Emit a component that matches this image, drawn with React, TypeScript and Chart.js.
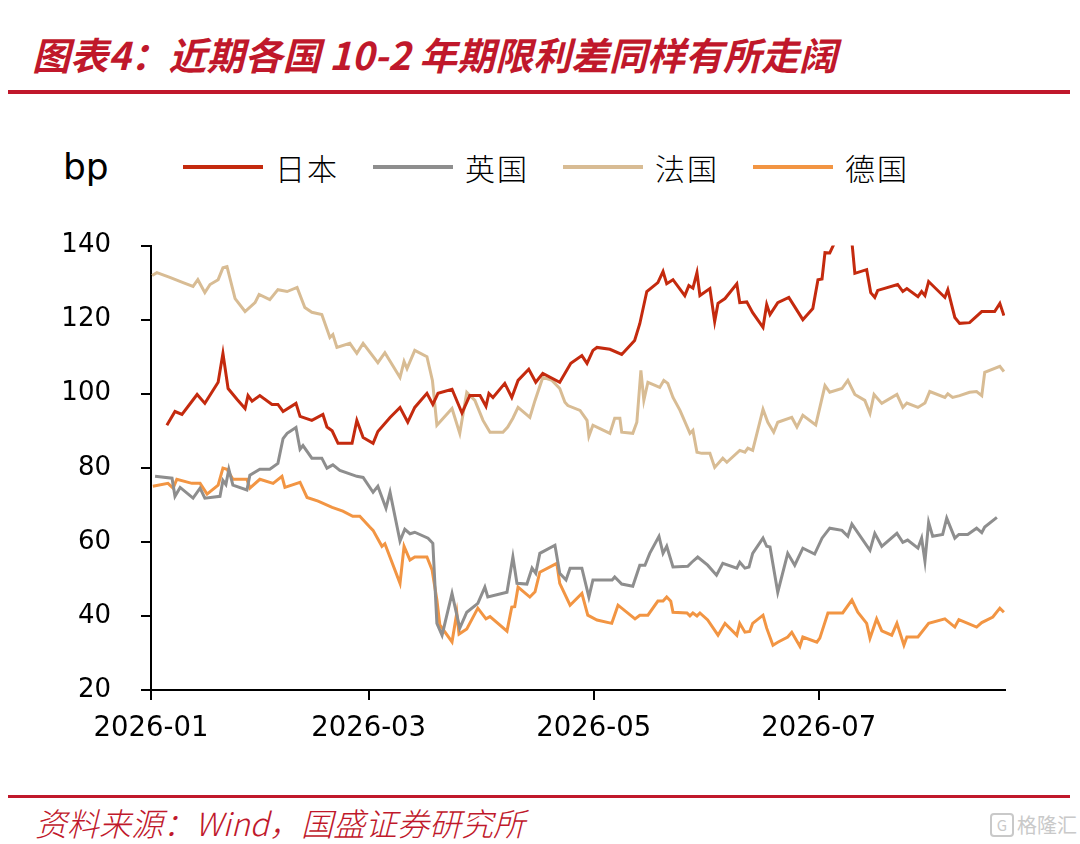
import { useEffect, useRef } from 'react';
import Chart from 'chart.js/auto';

// day offset from 2026-01-01, spread in bp
const japan: [number, number][] = [
  [4.3, 91.5], [6.5, 95.2], [8.4, 94.4], [12.5, 99.8], [14.6, 97.4], [18.2, 103.1], [19.5, 110.9],
  [20.9, 101.4], [23.3, 98.5], [25.5, 96], [26.3, 99.5], [27.4, 98], [29.5, 99.5], [32.8, 97.1],
  [34.4, 97.1], [35.8, 95.2], [39.3, 97.4], [40.4, 93.9], [43.6, 92.8], [46.6, 94.4], [47.7, 91],
  [49.1, 90], [50.7, 86.6], [54.5, 86.6], [55.8, 92.8], [57.5, 88.2], [60.2, 86.6], [61.5, 89.8],
  [64.8, 93.6], [67.5, 96.3], [69.6, 92.3], [71.5, 96.3], [74.8, 100.1], [76.4, 97.1], [77.8, 100.1],
  [81.6, 101.2], [84.3, 94.8], [86.4, 99.5], [89.2, 99.5], [90.8, 96.6], [91.6, 100.1], [92.7, 99],
  [95.9, 102.8], [97.8, 99], [99.5, 103.6], [102.4, 106.6], [104.3, 103.1], [106.2, 105.5],
  [110.8, 103.1], [113.8, 108.2], [116.8, 110.3], [118.2, 108.2], [119.8, 111.7], [120.9, 112.5],
  [124.4, 112], [127.6, 110.6], [131.1, 114.4], [132.5, 118.9], [134.4, 127.6], [137.4, 130],
  [138.8, 133], [139.8, 129.7], [141.5, 130.8], [144.7, 126.5], [145.8, 129.2], [146.9, 128.5],
  [148.0, 132.7], [148.8, 126.5], [151.5, 128.4], [152.8, 119.5], [153.7, 124.4], [155.6, 125.7],
  [158.8, 129.7], [159.6, 124.6], [161.5, 124.8], [163.1, 121.9], [165.9, 117.9], [166.9, 124.1],
  [167.8, 121.4], [169.9, 124.6], [172.9, 126], [176.7, 120], [179.4, 123], [180.8, 130.8],
  [181.9, 131], [182.7, 138.1], [184.0, 138], [185.4, 141], [186.7, 146], [188.9, 146], [190.0, 141],
  [190.8, 132.5], [194.0, 133.5], [195.1, 127.3], [196.2, 126], [197.0, 127.9], [202.4, 129.5],
  [203.8, 127.6], [204.9, 128.4], [207.9, 126.2], [208.9, 127.6], [209.8, 126.5], [210.8, 130.3],
  [215.2, 126], [216.0, 128.1], [217.9, 120.6], [219.2, 119], [221.9, 119.2], [225.2, 122.2],
  [228.7, 122.2], [230.1, 124.4], [231.2, 121.1],
];

const uk: [number, number][] = [
  [1.1, 77.7], [5.7, 77.2], [6.5, 72.3], [7.9, 74.7], [11.4, 71.8], [13.3, 74.5], [14.6, 71.8],
  [18.7, 72.3], [19.5, 76.6], [20.3, 75.5], [21.1, 79.6], [22.2, 75.3], [26.0, 74], [26.8, 78],
  [29.5, 79.6], [32.2, 79.6], [34.4, 81.2], [35.8, 87.9], [36.9, 89.3], [39.3, 90.9], [40.4, 85],
  [41.2, 86], [43.6, 82.6], [46.3, 82.6], [47.7, 79.9], [49.3, 80.8], [51.2, 79.3], [55.8, 77.7],
  [57.5, 77.4], [60.2, 73.4], [61.5, 75], [63.7, 69.1], [64.8, 73.4], [67.5, 60.2], [68.8, 63.4],
  [70.2, 62.2], [71.5, 62.6], [75.1, 61], [76.4, 59.6], [77.5, 38], [78.9, 34.8], [81.6, 46.1],
  [83.7, 36.7], [85.6, 41], [88.6, 43.4], [90.5, 47.8], [91.3, 45.1], [96.5, 46.4], [98.1, 55.9],
  [99.2, 48.8], [101.9, 48.6], [103.3, 52.9], [104.3, 51.5], [105.4, 56.9], [109.5, 59.1],
  [110.8, 51.5], [112.5, 49.7], [113.6, 52.9], [116.8, 52.9], [118.7, 45.1], [119.8, 49.7],
  [125.0, 49.7], [125.7, 50.5], [127.6, 48.6], [130.6, 48], [132.5, 53.7], [133.9, 53.7],
  [135.2, 56.9], [137.7, 61.5], [138.8, 56.9], [139.8, 58.8], [141.5, 53.2], [145.5, 53.4],
  [146.6, 54.5], [148.2, 55.9], [150.9, 53.7], [153.3, 51], [155.0, 54.2], [158.8, 52.9],
  [159.6, 54.5], [161.0, 52.9], [162.1, 53.2], [163.1, 56.9], [165.9, 61], [166.9, 58.8],
  [167.8, 58.6], [169.9, 46.4], [172.6, 56.9], [174.5, 53.7], [176.7, 58.3], [179.9, 56.7],
  [181.9, 61], [184.0, 63.7], [187.3, 63.1], [188.9, 61.5], [190.0, 64.8], [194.9, 57.7],
  [196.2, 62.3], [198.1, 58.8], [202.2, 62.3], [203.8, 59.9], [205.1, 60.5], [207.9, 58.3],
  [208.9, 61], [209.8, 54.8], [210.8, 65.3], [211.9, 61.5], [214.6, 62], [215.7, 66.4], [217.9, 61],
  [219.0, 62], [221.4, 62], [223.8, 63.7], [225.2, 62.5], [226.0, 64], [229.3, 66.6],
];

const france: [number, number][] = [
  [0.3, 131.9], [1.6, 132.7], [5.1, 131.4], [8.7, 130], [11.4, 129], [12.7, 130.8], [14.6, 127.3],
  [16.0, 129.5], [18.2, 130.8], [19.5, 134], [20.6, 134.3], [22.8, 125.7], [25.5, 122.2],
  [28.2, 124.6], [29.3, 126.8], [32.2, 125.4], [34.4, 128.1], [36.9, 127.6], [39.6, 128.7],
  [41.7, 123.3], [43.6, 122], [46.3, 121.4], [48.5, 115.2], [49.3, 116], [50.4, 112.5],
  [53.9, 113.6], [55.8, 110.9], [57.5, 113.6], [61.5, 108.4], [63.4, 111.1], [67.5, 104.4],
  [68.6, 108.7], [69.4, 106.8], [71.5, 111.7], [74.8, 110], [76.3, 103.5], [77.5, 91.5], [81.6, 96],
  [83.7, 89.3], [85.6, 100.4], [87.8, 98.2], [90.0, 92.8], [91.9, 89.6], [95.4, 89.6], [96.7, 91],
  [98.1, 93.4], [99.5, 96.3], [102.7, 93.6], [104.1, 98.2], [106.2, 104.4], [108.7, 103.6],
  [110.8, 101.4], [112.2, 97.7], [113.0, 96.8], [116.3, 95.5], [118.2, 92.8], [118.7, 88.5],
  [119.8, 91.5], [121.7, 90.6], [124.4, 89.3], [125.7, 93.4], [127.1, 93.4], [127.6, 89.6],
  [130.6, 89.3], [131.7, 92.3], [132.8, 106.3], [133.6, 98.2], [134.7, 103.1], [137.9, 101.7],
  [139.0, 103.6], [140.1, 102.8], [141.5, 99], [143.4, 95.5], [146.1, 89.3], [146.9, 90.1],
  [148.0, 84.2], [149.3, 83.9], [151.5, 83.9], [152.8, 80.1], [155.0, 82.6], [156.1, 81.5],
  [159.6, 84.7], [161.0, 84.2], [161.8, 85.3], [163.1, 84.7], [165.9, 95.8], [167.2, 92.3],
  [168.8, 89.6], [169.9, 92.3], [173.7, 93.6], [175.1, 91], [176.7, 94.2], [180.2, 91.6],
  [182.7, 102.2], [184.0, 100.4], [187.3, 101.4], [188.9, 103.6], [190.8, 99.8], [193.5, 98.2],
  [194.9, 94.7], [196.0, 99.8], [198.1, 97.4], [202.2, 99.8], [203.8, 96.3], [204.9, 97.5],
  [207.9, 96.3], [209.8, 97.5], [211.1, 100.6], [215.2, 99], [216.0, 100], [217.3, 99],
  [219.2, 99.5], [221.9, 100.4], [223.8, 100.6], [225.2, 99.5], [226.0, 105.8], [230.1, 107.4],
  [231.2, 106],
];

const germany: [number, number][] = [
  [0.5, 75], [4.6, 75.8], [6.0, 74.5], [7.0, 76.9], [11.1, 75.8], [13.3, 75.8], [15.2, 72.9],
  [18.2, 75.3], [19.5, 79.9], [20.6, 79.6], [22.2, 76.9], [26.0, 76.9], [26.8, 74.5], [29.5, 76.9],
  [33.1, 75.8], [35.5, 77.7], [36.3, 74.7], [40.4, 76.1], [42.3, 72], [45.3, 71], [49.1, 69.3],
  [52.0, 68.3], [54.7, 66.9], [56.6, 66.9], [59.3, 64], [60.2, 63.1], [62.6, 58.8], [63.4, 59.5],
  [67.5, 48.8], [68.6, 58.8], [70.2, 55.1], [71.5, 55.9], [74.8, 55.9], [76.2, 52.4], [77.5, 44.3],
  [78.3, 37.6], [81.6, 33], [82.9, 40.8], [83.5, 35.1], [85.6, 36.5], [88.6, 42.1], [90.8, 39.2],
  [91.9, 39.8], [96.5, 35.9], [97.8, 42.4], [98.6, 42.5], [99.5, 47.8], [102.7, 45.1], [104.1, 46.5],
  [105.4, 51.8], [110.0, 54.2], [110.8, 48.8], [113.6, 42.9], [116.8, 46.1], [118.4, 40.2],
  [120.9, 38.9], [124.9, 38], [126.6, 42.9], [131.2, 39.2], [132.5, 40.2], [134.7, 40.2],
  [137.4, 44], [138.8, 44], [139.8, 45.1], [140.9, 44], [141.5, 41], [145.3, 40.8], [146.1, 40],
  [146.9, 40.8], [148.0, 40], [148.8, 40.8], [150.9, 38.9], [153.7, 34.8], [155.6, 38], [158.8, 34.8],
  [159.6, 38], [161.0, 35.6], [162.3, 35.8], [163.1, 38], [165.9, 40.2], [166.9, 36.7], [168.6, 32.1],
  [169.9, 32.9], [172.6, 34.3], [173.7, 35.6], [175.9, 31.8], [176.7, 34.3], [180.5, 32.9],
  [181.3, 34], [183.5, 40.8], [187.5, 40.8], [190.0, 44.3], [191.6, 41], [194.0, 38], [194.9, 34],
  [196.7, 39.2], [198.1, 36], [200.8, 34.8], [202.2, 38], [204.1, 32.1], [204.9, 34.3], [207.9, 34.3],
  [210.8, 38], [215.2, 39.2], [217.9, 37], [219.0, 39], [223.8, 37], [225.2, 38.2], [228.2, 39.7],
  [230.1, 42.1], [231.2, 41],
];

const tickDays = [0, 59, 120, 181];
const tickLabels = ['2026-01', '2026-03', '2026-05', '2026-07'];

const series = [
  { label: '日本', data: japan, color: '#C42A0E' },
  { label: '英国', data: uk, color: '#8E8E8E' },
  { label: '法国', data: france, color: '#D8BC94' },
  { label: '德国', data: germany, color: '#F29543' },
];

const RED = '#C0182B';
const FAMILY = '"DejaVu Sans", Verdana, sans-serif';

export default function App() {
  const chartRef = useRef<HTMLCanvasElement>(null);

  useEffect(() => {
    document.body.style.margin = '0';
    if (!chartRef.current) return;
    const chart = new Chart(chartRef.current, {
      type: 'line',
      data: {
        datasets: series.map(s => ({
          label: s.label,
          data: s.data.map(([x, y]) => ({ x, y })),
          borderColor: s.color,
          backgroundColor: s.color,
          borderWidth: 3,
          pointRadius: 0,
          tension: 0,
        })),
      },
      options: {
        animation: false,
        responsive: true,
        maintainAspectRatio: false,
        layout: { padding: { top: 0, right: 75, left: 0, bottom: 0 } },
        plugins: { legend: { display: false }, tooltip: { enabled: false } },
        scales: {
          x: {
            type: 'linear',
            min: 0,
            max: 231.5,
            afterBuildTicks: scale => {
              scale.ticks = tickDays.map(value => ({ value }));
            },
            afterFit: scale => {
              scale.height = 90;
            },
            ticks: {
              color: '#000',
              font: { family: FAMILY, size: 27.5 },
              padding: 12,
              maxRotation: 0,
              autoSkip: false,
              callback: value => tickLabels[tickDays.indexOf(Number(value))] ?? '',
            },
            grid: { drawOnChartArea: false, color: '#000', lineWidth: 2, tickLength: 10 },
            border: { color: '#000', width: 2 },
          },
          y: {
            min: 20,
            max: 140,
            afterFit: scale => {
              scale.width = 151;
            },
            ticks: { stepSize: 20, color: '#000', font: { family: FAMILY, size: 26 }, padding: 30 },
            grid: { drawOnChartArea: false, color: '#000', lineWidth: 2, tickLength: 10 },
            border: { color: '#000', width: 2 },
          },
        },
      },
    });
    return () => chart.destroy();
  }, []);

  return (
    <div style={{ position: 'relative', width: 1080, height: 844, background: '#fff', overflow: 'hidden' }}>
      <div
        style={{
          position: 'absolute', left: 32, top: 28, color: RED, fontSize: 38, fontWeight: 'bold',
          fontStyle: 'italic', fontFamily: '"Noto Sans CJK SC", sans-serif', whiteSpace: 'nowrap', lineHeight: '52px',
        }}
      >
        图表4：近期各国 10-2 年期限利差同样有所走阔
      </div>
      <div style={{ position: 'absolute', left: 8, top: 90, width: 1062, height: 4, background: RED }} />

      <div style={{ position: 'absolute', left: 63, top: 145, fontSize: 36, fontFamily: FAMILY, lineHeight: '44px' }}>
        bp
      </div>
      {series.map((s, i) => (
        <div key={s.label} style={{ position: 'absolute', left: 183 + i * 190, top: 145, height: 44, display: 'flex', alignItems: 'center' }}>
          <div style={{ width: 80, height: 4, background: s.color }} />
          <span style={{ marginLeft: 12, fontSize: 30, fontFamily: '"Noto Sans CJK SC", serif', fontWeight: 300, letterSpacing: 2 }}>
            {s.label}
          </span>
        </div>
      ))}

      <div style={{ position: 'absolute', left: 0, top: 200, width: 1080, height: 580 }}>
        <canvas ref={chartRef} />
      </div>

      <div style={{ position: 'absolute', left: 8, top: 795, width: 1062, height: 3, background: RED }} />
      <div
        style={{
          position: 'absolute', left: 35, top: 801, color: RED, fontSize: 32, fontStyle: 'italic',
          fontFamily: '"Noto Sans CJK SC", sans-serif', whiteSpace: 'nowrap', lineHeight: '42px', fontWeight: 300,
        }}
      >
        资料来源：Wind，国盛证券研究所
      </div>
      <div
        style={{
          position: 'absolute', left: 990, top: 810, color: '#c9c9c9', fontSize: 20,
          fontFamily: '"Noto Sans CJK SC", sans-serif', whiteSpace: 'nowrap', display: 'flex', alignItems: 'center',
        }}
      >
        <span style={{ border: '2px solid #c9c9c9', borderRadius: 4, width: 20, height: 20, lineHeight: '20px', textAlign: 'center', fontSize: 15, marginRight: 3 }}>
          G
        </span>
        格隆汇
      </div>
    </div>
  );
}
